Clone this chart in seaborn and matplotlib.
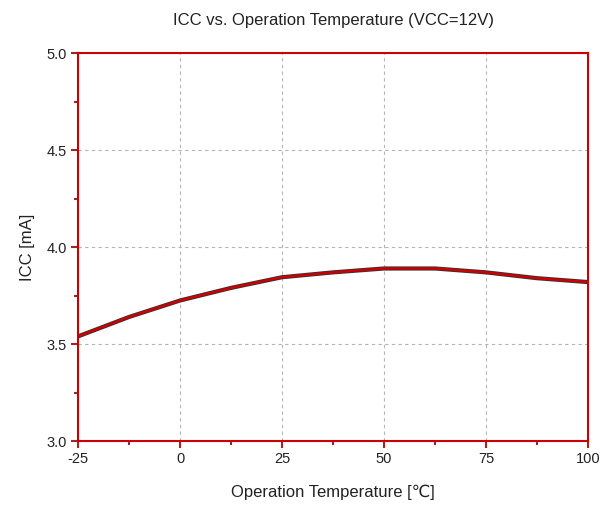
import numpy as np
import pandas as pd
import matplotlib.pyplot as plt
from matplotlib.ticker import MultipleLocator
import seaborn as sns

temp = [-25, -12.5, 0, 12.5, 25, 37.5, 50, 62.5, 75, 87.5, 100]
icc = [3.54, 3.64, 3.725, 3.79, 3.845, 3.87, 3.89, 3.89, 3.87, 3.84, 3.82]

df = pd.DataFrame({'temp': temp, 'icc': icc})

sns.set_style('white')
plt.rcParams['font.family'] = ['Liberation Sans', 'DejaVu Sans']
plt.rcParams['axes.unicode_minus'] = False

fig = plt.figure(figsize=(6.1, 5.07), dpi=100)
ax = fig.add_axes([0.128, 0.130, 0.836, 0.765])

# dark underlay then red line, like the source
sns.lineplot(data=df, x='temp', y='icc', ax=ax, color='#333333', linewidth=3.0)
sns.lineplot(data=df, x='temp', y='icc', ax=ax, color='#cc0000', linewidth=1.8)

ax.set_xlim(-25, 100)
ax.set_ylim(3.0, 5.0)
ax.xaxis.set_major_locator(MultipleLocator(25))
ax.xaxis.set_minor_locator(MultipleLocator(12.5))
ax.yaxis.set_major_locator(MultipleLocator(0.5))
ax.yaxis.set_minor_locator(MultipleLocator(0.25))
ax.yaxis.set_major_formatter(plt.FormatStrFormatter('%.1f'))

ax.grid(True, which='major', color='#b5b5b5', linestyle=(0, (3, 3)), linewidth=0.8)
for s in ax.spines.values():
    s.set_color('#cc0000')
    s.set_linewidth(1.5)

ax.tick_params(which='major', direction='out', length=5, width=1.5, color='#aa2222',
               labelsize=10.5, labelcolor='#222222', pad=3)
ax.tick_params(which='minor', direction='out', length=3, width=1.5, color='#aa2222')
ax.tick_params(bottom=True, left=True, which='both')

ax.set_xlabel('Operation Temperature [℃]', fontsize=12, labelpad=13, color='#222222')
ax.set_ylabel('ICC [mA]', fontsize=12, labelpad=8, color='#222222')
ax.set_title('ICC vs. Operation Temperature (VCC=12V)', fontsize=12, pad=20, color='#222222')

fig.savefig('out.png', dpi=100, facecolor='white')
